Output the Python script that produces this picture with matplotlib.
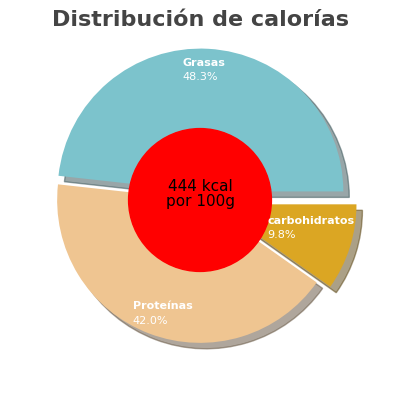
import matplotlib
matplotlib.use("Agg")
import matplotlib.pyplot as plt
import numpy as np

labels = ["Grasas", "Proteínas", "carbohidratos"]
values = [48.3, 42.0, 9.8]
colors = ["#7cc3cc", "#efc591", "#dba623"]
explode = [0.06, 0.0, 0.1]

fig = plt.figure(figsize=(4, 4), dpi=100)
ax = fig.add_axes([0, 0, 1, 1])
wedges, _ = ax.pie(values, colors=colors, startangle=0, counterclock=True,
                   explode=explode, shadow={'ox': 0.03, 'oy': -0.03, 'shade': 0.6},
                   radius=1.0)
ax.set_xlim(-1.40, 1.40)
ax.set_ylim(-1.40, 1.40)
ax.set_aspect('equal')
ax.axis('off')

radii = [0.85, 0.85, 0.55]
offs = [-0.17, -0.17, -0.15]
for w, lab, v, r, o in zip(wedges, labels, values, radii, offs):
    a = np.deg2rad((w.theta1 + w.theta2) / 2)
    cx, cy = w.center
    x = cx + r * np.cos(a) + o
    y = cy + r * np.sin(a)
    ax.text(x, y + 0.05, lab, color="white", fontsize=8, fontweight="bold",
            ha="left", va="center", zorder=10)
    ax.text(x, y - 0.05, f"{v:.1f}%", color="white", fontsize=8,
            ha="left", va="center", zorder=10)

ax.add_patch(plt.Circle((0, 0), 0.5, color="red", zorder=5))
ax.text(0, 0.04, "444 kcal\npor 100g", ha="center", va="center", fontsize=11,
        zorder=6, linespacing=1.0)
fig.text(0.5, 0.95, "Distribución de calorías", ha="center", va="center",
         fontsize=16, fontweight="bold", color="#444444")
fig.savefig("out.png", dpi=100)
